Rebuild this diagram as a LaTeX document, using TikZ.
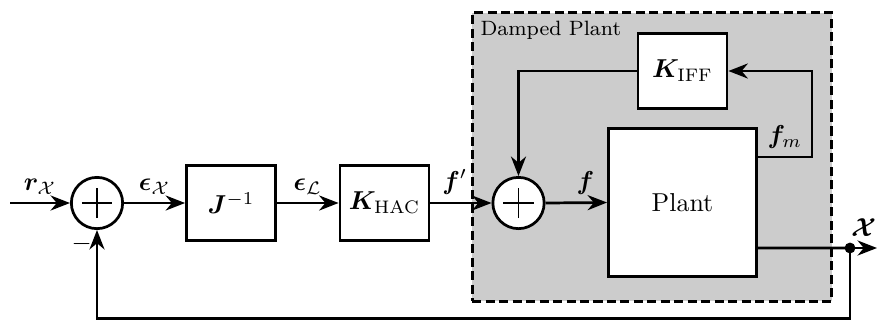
\documentclass[tikz,border=0pt]{standalone}
\usepackage{amsmath,bm}
\usetikzlibrary{arrows.meta,calc}
\begin{document}
\begin{tikzpicture}[x=0.3861pt,y=-0.3861pt, line width=1.05pt,
  >={Stealth[length=7.5pt,width=5.8pt,inset=2.4pt]},
  blockbox/.style={draw, fill=white, rectangle, minimum width=34.4pt, minimum height=29pt, inner sep=0pt},
  sumnode/.style={draw, fill=white, circle, minimum size=19.8pt, inner sep=0pt,
    path picture={
      \draw[line width=0.5pt] ([xshift=-5.8pt]path picture bounding box.center) -- ([xshift=5.8pt]path picture bounding box.center);
      \draw[line width=0.5pt] ([yshift=-5.8pt]path picture bounding box.center) -- ([yshift=5.8pt]path picture bounding box.center);}},
  lbl/.style={above, inner sep=2.8pt},
  dampbox/.style={draw, dash pattern=on 3.5pt off 1.7pt, fill=black!20, rectangle, inner sep=0pt}]
\useasboundingbox (0,0) rectangle (877,320);
% damped plant region
\node[dampbox, minimum width=138.8pt, minimum height=111.4pt] (damped) at (652,157) {};
\node[anchor=north west, font=\footnotesize, inner sep=3.2pt] (dplabel) at (damped.north west) {Damped Plant};
% blocks
\node[sumnode] (s1) at (97,203) {};
\node[blockbox] (J) at (231,203) {$\bm{J}^{-1}$};
\node[blockbox] (KHAC) at (384.5,203) {$\bm{K}_{\text{HAC}}$};
\node[sumnode] (s2) at (518.5,203) {};
\node[blockbox] (KIFF) at (682.5,71) {$\bm{K}_{\text{IFF}}$};
\node[blockbox, minimum width=57.2pt, minimum height=57.2pt] (plant) at (682.5,202.5) {Plant};
% coordinates
\coordinate (in) at (10,203);
\coordinate (fm) at ($(plant.east)+(0,-45.5)$);
\coordinate (out) at ($(plant.east)+(0,45.5)$);
\coordinate (dotpt) at (850,248);
\coordinate (end) at (877,248);
\coordinate (fb) at (850,318.5);
% connectors
\draw[->] (in) -- node[lbl]{$\bm{r}_{\mathcal{X}}$} (s1.west);
\draw[->] (s1.east) -- node[lbl]{$\bm{\epsilon}_{\mathcal{X}}$} (J.west);
\draw[->] (J.east) -- node[lbl]{$\bm{\epsilon}_{\mathcal{L}}$} (KHAC.west);
\draw[->] (KHAC.east) -- node[lbl, pos=0.4]{$\bm{f}'$} (s2.west);
\draw[->] (s2.east) -- node[lbl, pos=0.65]{$\bm{f}$} (plant.west);
\draw[->] (fm) -- node[lbl]{$\bm{f}_m$} ++(54,0) |- (KIFF.east);
\draw[->] (KIFF.west) -| (s2.north);
\draw (out) -- (dotpt);
\draw[->] (dotpt) -- node[lbl, inner sep=4pt]{$\bm{\mathcal{X}}$} (end);
\fill (dotpt) circle (2.1pt);
\draw[->] (dotpt) -- (fb) -| node[pos=0.92, left, inner sep=1.5pt]{$-$} (s1.south);
\end{tikzpicture}
\end{document}
